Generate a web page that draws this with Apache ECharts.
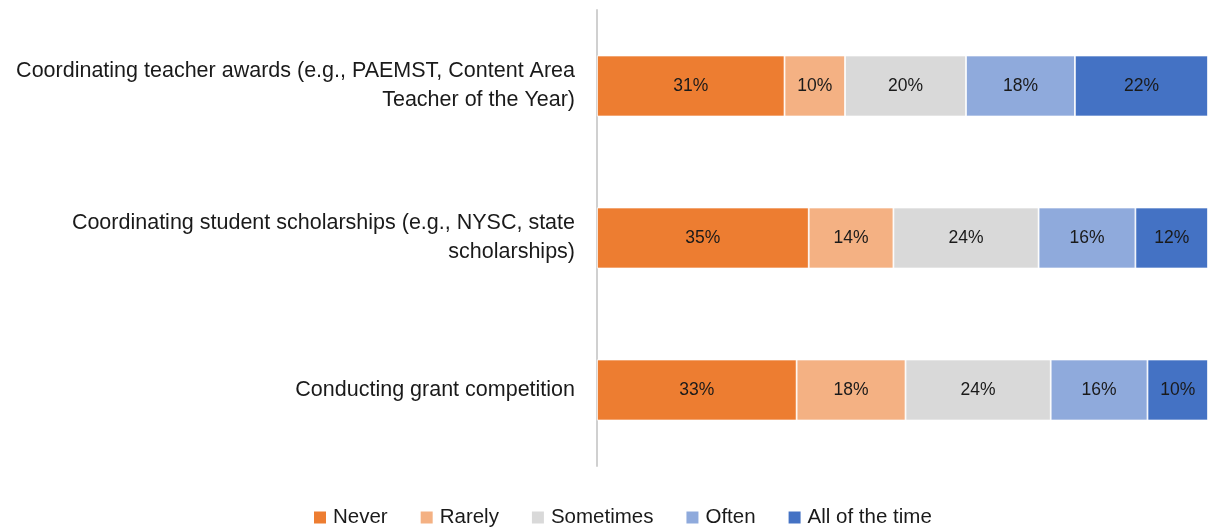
<!DOCTYPE html>
<html>
<head>
<meta charset="utf-8">
<script src="https://cdn.jsdelivr.net/npm/echarts@6/dist/echarts.min.js"></script>
<style>
  html, body { margin: 0; padding: 0; background: #fff; }
  #chart { width: 1208px; height: 529px; }
</style>
</head>
<body>
<div id="chart"></div>
<script>
const categories = [
  'Coordinating teacher awards (e.g., PAEMST, Content Area\nTeacher of the Year)',
  'Coordinating student scholarships (e.g., NYSC, state\nscholarships)',
  'Conducting grant competition'
]
const seriesNames = ['Never', 'Rarely', 'Sometimes', 'Often', 'All of the time']
const never = [31, 35, 33]
const rarely = [10, 14, 18]
const sometimes = [20, 24, 24]
const often = [18, 16, 16]
const allTheTime = [22, 12, 10]
const colors = ['#ED7D31', '#F4B183', '#D9D9D9', '#8FAADC', '#4472C4']

const font = 'Liberation Sans, Arial, sans-serif'
const values = [never, rarely, sometimes, often, allTheTime]

const chart = echarts.init(document.getElementById('chart'))

const series = seriesNames.map((name, i) => ({
  name: name,
  type: 'bar',
  stack: 'total',
  barWidth: 61,
  data: values[i],
  itemStyle: { color: colors[i], borderColor: '#fff', borderWidth: 0.8 },
  label: {
    show: true,
    position: 'inside',
    formatter: '{c}%',
    color: '#1a1a1a',
    fontFamily: font,
    fontSize: 17.5
  }
}))

chart.setOption({
  animation: false,
  grid: { left: 597, right: 0, top: 10, bottom: 63 },
  legend: {
    data: seriesNames,
    top: 502,
    left: 307,
    itemWidth: 14,
    itemHeight: 14,
    itemGap: 31,
    icon: 'rect',
    textStyle: { fontFamily: font, fontSize: 20.5, color: '#1a1a1a', padding: [0, 0, 0, 1] }
  },
  xAxis: {
    type: 'value',
    min: 0,
    max: 101,
    show: false
  },
  yAxis: {
    type: 'category',
    inverse: true,
    data: categories,
    axisLine: { lineStyle: { color: '#d0d0d0', width: 2 } },
    axisTick: { show: false },
    axisLabel: {
      margin: 22,
      fontFamily: font,
      fontSize: 21.5,
      lineHeight: 29,
      color: '#1a1a1a',
      align: 'right'
    }
  },
  series: series
})
</script>
</body>
</html>
